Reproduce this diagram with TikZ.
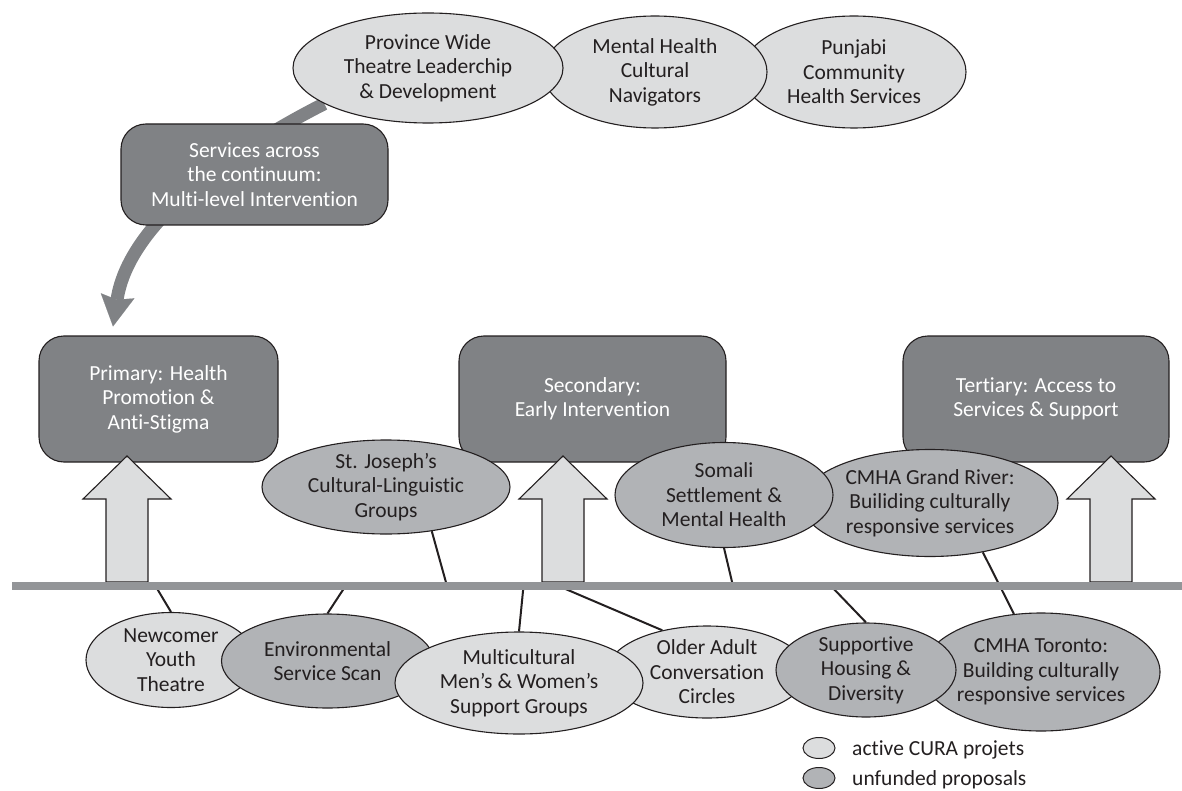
\documentclass[tikz,border=0pt]{standalone}
\usepackage{fontspec}
\setmainfont{Carlito}[Ligatures=NoCommon]
\usetikzlibrary{shapes.geometric,arrows.meta}
\pgfdeclarelayer{bg}
\pgfsetlayers{bg,main}
\definecolor{lightfill}{HTML}{DCDDDE}
\definecolor{darkfill}{HTML}{B1B3B6}
\definecolor{boxfill}{HTML}{808285}
\definecolor{barcol}{HTML}{939598}
\definecolor{ink}{HTML}{231F20}
\tikzset{
  proj/.style={ellipse, draw=ink, line width=1.1pt, inner sep=-20pt, align=center, text=ink},
  active/.style={proj, fill=lightfill},
  unfunded/.style={proj, fill=darkfill},
  level/.style={rectangle, rounded corners=25pt, draw=ink, line width=1.1pt, fill=boxfill, text=white, align=center, inner sep=0pt},
  link/.style={draw=ink, line width=2pt},
  uparrow/.style={fill=lightfill, draw=ink, line width=1.1pt, line join=miter},
  curvedarrow/.style={draw=boxfill, line width=13pt, -{Stealth[length=31pt,width=34pt,inset=4pt,line width=0.1pt]}},
  legendell/.style={ellipse, draw=ink, line width=1pt, inner sep=0pt, minimum width=32pt, minimum height=21pt},
  blockup/.pic={\draw[uparrow] (-21,126) -- (-21,43) -- (-44,43) -- (0,0) -- (44,43) -- (21,43) -- (21,126) -- cycle;}
}
\begin{document}
\begin{tikzpicture}[x=1pt,y=-1pt,font=\fontsize{21.5pt}{24.5pt}\selectfont]
\useasboundingbox (0,0) rectangle (1182,791);

% top row
\node[active, minimum width=224pt, minimum height=112pt] (punj) at (854,72) {Punjabi\\Community\\Health Services};
\node[active, minimum width=224pt, minimum height=112pt] (ment) at (655,72) {Mental Health\\Cultural\\Navigators};
\node[active, minimum width=270pt, minimum height=110pt] (prov) at (428,68) {Province Wide\\Theatre Leaderchip\\\& Development};

\node[level, minimum width=267pt, minimum height=101pt] (serv) at (254.5,174.5) {Services across\\the continuum:\\Multi-level Intervention};

% levels
\node[level, minimum width=239pt, minimum height=126pt] (primary) at (158.5,399) {Primary: Health\\Promotion \&\\Anti-Stigma};
\node[level, minimum width=267pt, minimum height=126pt] (secondary) at (592.5,399) {Secondary:\\Early Intervention};
\node[level, minimum width=266pt, minimum height=126pt] (tertiary) at (1036,399) {Tertiary: Access to\\Services \& Support};

% up arrows
\pic at (127,456) {blockup};
\pic at (563,456) {blockup};
\pic at (1111,456) {blockup};

% bar
\fill[barcol] (12,582) rectangle (1182,590);
\coordinate (bStjo) at (447,586);
\coordinate (bSomali) at (733,586);
\coordinate (bNewc) at (155.5,586);
\coordinate (bEnv) at (345.5,586);
\coordinate (bMulti) at (523.5,586);
\coordinate (bOlder) at (558.5,586);
\coordinate (bSupp) at (831,586);

% middle projects
\node[unfunded, minimum width=248pt, minimum height=94pt] (stjo) at (386,487) {St. Joseph’s\\Cultural-Linguistic\\Groups};
\node[unfunded, minimum width=256pt, minimum height=107pt] (cmhagr) at (930,503) {CMHA Grand River:\\Builiding culturally\\responsive services};
\node[unfunded, minimum width=218pt, minimum height=105pt] (somali) at (724,495) {Somali\\Settlement \&\\Mental Health};

% bottom projects
\node[active, minimum width=170pt, minimum height=95pt] (newc) at (171,660) {Newcomer\\Youth\\Theatre};
\node[unfunded, minimum width=212pt, minimum height=94pt] (env) at (327.5,661) {Environmental\\Service Scan};
\node[active, minimum width=200pt, minimum height=92pt] (older) at (707,672) {Older Adult\\Conversation\\Circles};
\node[active, minimum width=248pt, minimum height=102pt] (multi) at (519,683) {Multicultural\\Men’s \& Women’s\\Support Groups};
\node[unfunded, minimum width=238pt, minimum height=118pt] (cmhat) at (1041,672) {CMHA Toronto:\\Building culturally\\responsive services};
\node[unfunded, minimum width=180pt, minimum height=94pt] (supp) at (866,670) {Supportive\\Housing \&\\Diversity};

% legend
\node[legendell, fill=lightfill] (legA) at (819,748) {};
\node[legendell, fill=darkfill] (legB) at (819,778) {};
\node[anchor=base west, text=ink, inner sep=0pt] (legAt) at (852,755) {active CURA projets};
\node[anchor=base west, text=ink, inner sep=0pt] (legBt) at (852,785) {unfunded proposals};

% connectors behind
\begin{pgfonlayer}{bg}
\draw[curvedarrow] (prov.199) .. controls (245,144) and (129.5,217) .. ([shift={(-45.5,-9)}]primary.north);
\draw[link] (stjo.-44) -- (bStjo);
\draw[link] (somali.south) -- (bSomali);
\draw[link] (cmhagr.-43) -- (cmhat.115);
\draw[link] (newc.north) -- (bNewc);
\draw[link] (env.north) -- (bEnv);
\draw[link] (multi.north) -- (bMulti);
\draw[link] (older.137) -- (bOlder);
\draw[link] (supp.north) -- (bSupp);
\end{pgfonlayer}
\end{tikzpicture}
\end{document}
